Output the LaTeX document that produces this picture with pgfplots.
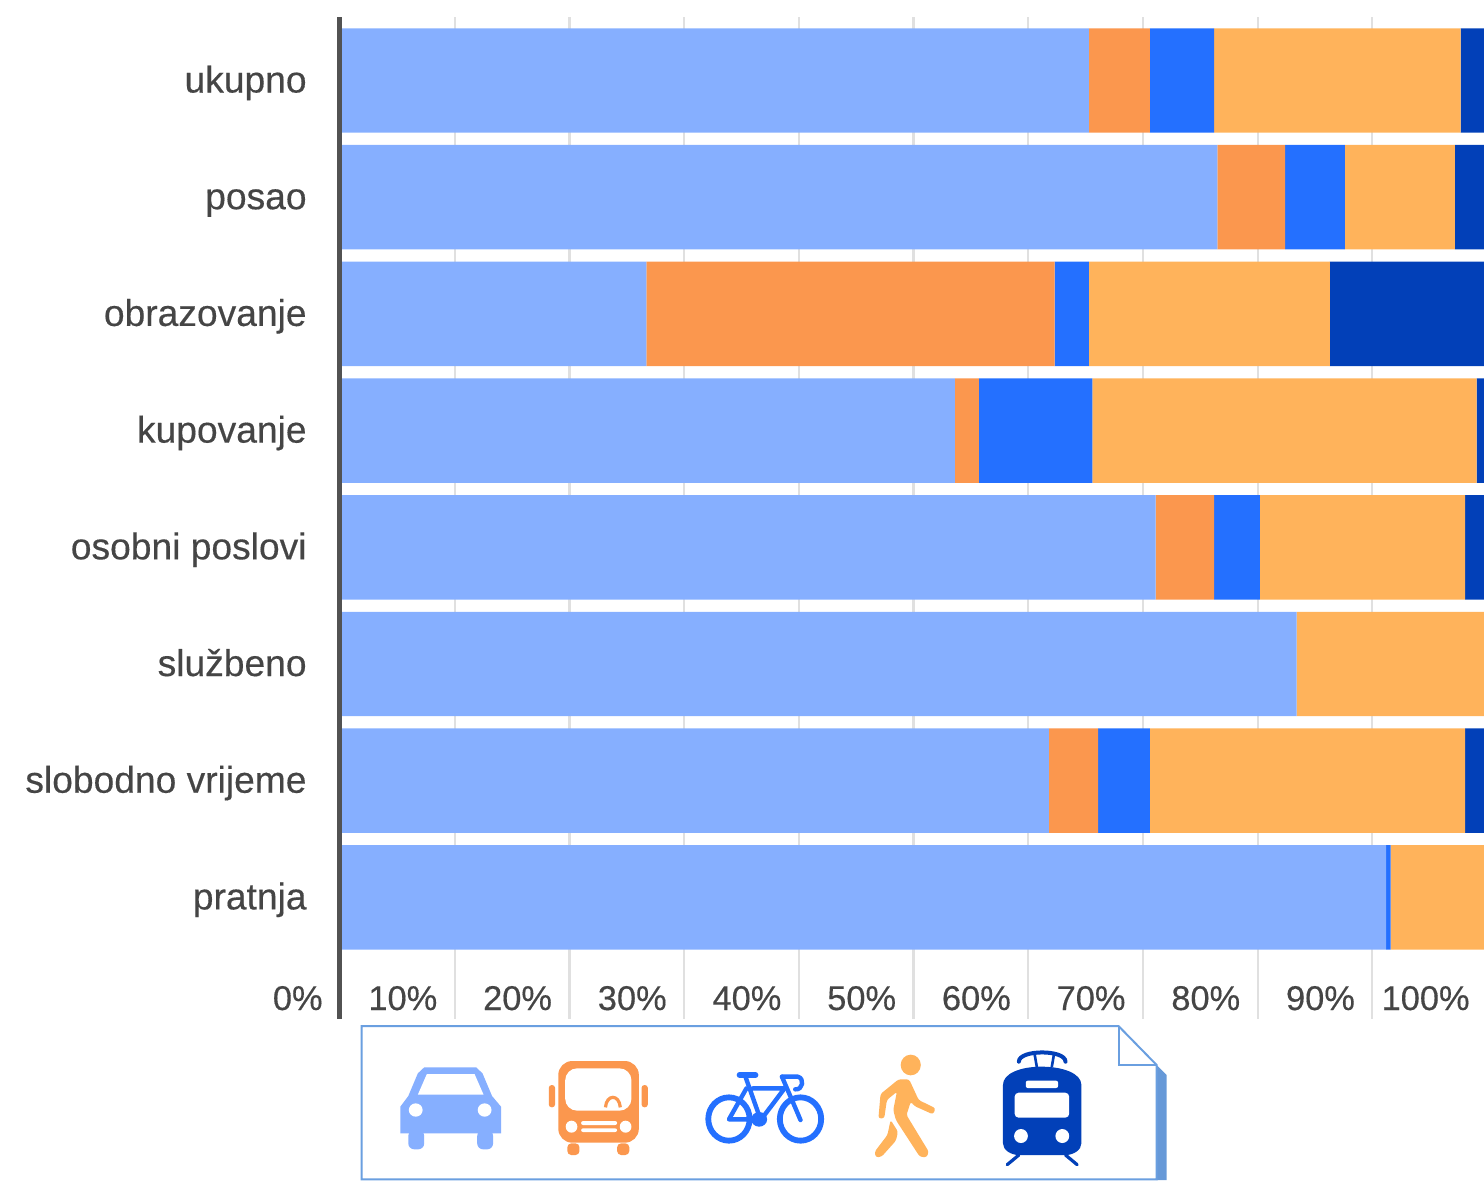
\documentclass[border=0pt]{standalone}
\usepackage{fontspec}
\setmainfont{Liberation Sans}
\newfontfamily\lab[FakeBold=0.35]{Liberation Sans}
\usepackage{pgfplots}
\usepackage{pgfplotstable}
\pgfplotsset{compat=1.18}
\definecolor{car}{HTML}{86AFFF}
\definecolor{bus}{HTML}{FB974E}
\definecolor{bike}{HTML}{2470FF}
\definecolor{walk}{HTML}{FFB35B}
\definecolor{tram}{HTML}{0240B8}
\definecolor{boxc}{HTML}{6A9FE0}
\definecolor{shadowc}{HTML}{6699D8}
\definecolor{txt}{HTML}{454545}
\pgfplotstableread{
idx car bus bike walk tram
0 65.3 5.3 5.6 21.5 2.3
1 76.5 5.9 5.2 9.6 2.8
2 26.7 35.6 3.0 21.0 13.7
3 53.6 2.1 9.9 33.5 0.9
4 71.1 5.1 4.0 17.9 1.9
5 83.4 0 0 16.6 0
6 61.8 4.3 4.5 27.5 1.9
7 91.2 0 0.4 8.4 0
}\modes
\begin{document}
\begin{tikzpicture}
\path[use as bounding box, clip] (0,0) rectangle (742pt,-590pt);
\begin{axis}[
  at={(170pt,-509.5pt)}, anchor=south west,
  scale only axis, width=573.5pt, height=501pt,
  xbar stacked, bar width=0.895,
  xmin=0, xmax=100, ymin=-0.544, ymax=8.042, y dir=reverse,
  axis line style={draw=none},
  major tick length=0pt,
  xmajorgrids, grid style={draw=black!12, line width=1.1pt},
  ytick={0,...,7},
  yticklabels={ukupno,posao,obrazovanje,kupovanje,osobni poslovi,službeno,slobodno vrijeme,pratnja},
  xtick={0,10,...,100},
  xticklabels={0\%,10\%,20\%,30\%,40\%,50\%,60\%,70\%,80\%,90\%,100\%},
  typeset ticklabels with strut,
  tick label style={text=txt, inner sep=0pt},
  yticklabel style={font=\lab\fontsize{18.6}{20}\selectfont, anchor=east, xshift=-16.5pt, yshift=-2pt},
  xticklabel style={font=\lab\fontsize{17.2}{20}\selectfont, anchor=base east, xshift=-8.5pt, yshift=4.5pt},
]
\addplot[draw=none, fill=car]  table[x=car,y=idx]{\modes};
\addplot[draw=none, fill=bus]  table[x=bus,y=idx]{\modes};
\addplot[draw=none, fill=bike] table[x=bike,y=idx]{\modes};
\addplot[draw=none, fill=walk] table[x=walk,y=idx]{\modes};
\addplot[draw=none, fill=tram] table[x=tram,y=idx]{\modes};
\end{axis}
\draw[line width=2.5pt, draw=black!68] (169.5pt,-8.5pt) -- (169.5pt,-509.5pt);
% pictogram box, in zoom coordinates
\begin{scope}[shift={(175pt,-510pt)}, x=0.265pt, y=-0.16667pt]
  % page with folded corner
  \fill[shadowc] (1522,135) -- (1541,165) -- (1541,480) -- (1522,480) -- cycle;
  \draw[boxc, line width=1pt, fill=white] (22,18) -- (1450,18) -- (1522,135) -- (1522,478) -- (22,478) -- cycle;
  \draw[boxc, line width=1pt] (1450,18) -- (1450,135) -- (1522,135);
  % car
  \fill[car] (95,340) -- (95,260) -- (110,228) -- (128,160) -- (140,142) -- (238,142) -- (250,160) -- (268,228) -- (285,260) -- (285,340) -- cycle;
  \fill[car, rounded corners=3pt] (110,330) -- (110,388) -- (140,388) -- (140,330) -- cycle;
  \fill[car, rounded corners=3pt] (240,330) -- (240,388) -- (270,388) -- (270,330) -- cycle;
  \fill[white] (145,162) -- (235,162) -- (252,224) -- (128,224) -- cycle;
  \fill[white] (124,270) ellipse [x radius=13, y radius=20];
  \fill[white] (254,270) ellipse [x radius=13, y radius=20];
  % bus
  \fill[bus, rounded corners=2pt] (410,370) -- (410,405) -- (433,405) -- (433,370) -- cycle;
  \fill[bus, rounded corners=2pt] (504,370) -- (504,405) -- (527,405) -- (527,370) -- cycle;
  \fill[bus, rounded corners=7pt] (393,368) -- (393,123) -- (545,123) -- (545,368) -- cycle;
  \fill[white, rounded corners=6pt] (406,272) -- (406,145) -- (531,145) -- (531,272) -- cycle;
  \fill[bus, rounded corners=1.5pt] (375,262) -- (375,195) -- (387,195) -- (387,262) -- cycle;
  \fill[bus, rounded corners=1.5pt] (550,262) -- (550,195) -- (562,195) -- (562,262) -- cycle;
  \draw[bus, line width=1.6pt] (482,262) .. controls (484,222) and (508,222) .. (510,262);
  \fill[white] (418,320) ellipse [x radius=11, y radius=18];
  \fill[white] (520,320) ellipse [x radius=11, y radius=18];
  \fill[white, rounded corners=1pt] (436,303) rectangle (504,315);
  \fill[white, rounded corners=1pt] (436,325) rectangle (504,336);
  % bicycle
  \begin{scope}[bike, line width=2.9pt, line cap=round, line join=round]
    \draw (715,297) ellipse [x radius=39, y radius=65];
    \draw (850,297) ellipse [x radius=39, y radius=65];
    \draw[line width=2.2pt] (745,165) -- (775,300) -- (820,205) -- (760,205);
    \draw[line width=2.2pt] (748,205) -- (715,298) -- (772,298);
    \draw[line width=2.2pt] (815,170) -- (850,300);
    \draw (735,165) -- (765,165);
    \draw[line width=2.2pt] (815,170) -- (845,170) .. controls (858,175) and (855,210) .. (840,208);
    \fill (772,298) ellipse [x radius=15, y radius=22];
  \end{scope}
  % walker
  \fill[walk] (1058,135) ellipse [x radius=19, y radius=31];
  \fill[walk, rounded corners=1.2pt] (1035,178) -- (1055,178) -- (1073,240) -- (1105,265) -- (1100,283) -- (1065,258) -- (1058,245) -- (1050,285) -- (1092,395) -- (1088,412) -- (1075,410) -- (1030,300) -- (1025,270) -- (1032,215) -- (1013,240) -- (1008,295) -- (997,295) -- (1001,222) -- cycle;
  \fill[walk, rounded corners=1.2pt] (1020,300) -- (1034,335) -- (1030,362) -- (1003,410) -- (992,412) -- (990,395) -- (1014,345) -- cycle;
  % tram
  \fill[tram] (1232,195) .. controls (1232,160) and (1265,140) .. (1305,140) .. controls (1345,140) and (1380,160) .. (1380,195) -- (1380,370) .. controls (1380,390) and (1365,405) .. (1350,405) -- (1262,405) .. controls (1247,405) and (1232,390) .. (1232,370) -- cycle;
  \fill[white, rounded corners=1pt] (1275,182) rectangle (1336,204);
  \fill[white, rounded corners=2pt] (1254,218) rectangle (1357,293);
  \fill[white] (1266,348) ellipse [x radius=13, y radius=21];
  \fill[white] (1344,348) ellipse [x radius=13, y radius=21];
  \draw[tram, line width=2pt, line cap=round] (1262,125) .. controls (1262,88) and (1350,88) .. (1350,125);
  \draw[tram, line width=1.3pt] (1292,105) -- (1296,142);
  \draw[tram, line width=1.3pt] (1328,105) -- (1324,142);
  \draw[tram, line width=1.6pt, line cap=round] (1262,405) -- (1240,434);
  \draw[tram, line width=1.6pt, line cap=round] (1350,405) -- (1372,434);
\end{scope}
\end{tikzpicture}
\end{document}
